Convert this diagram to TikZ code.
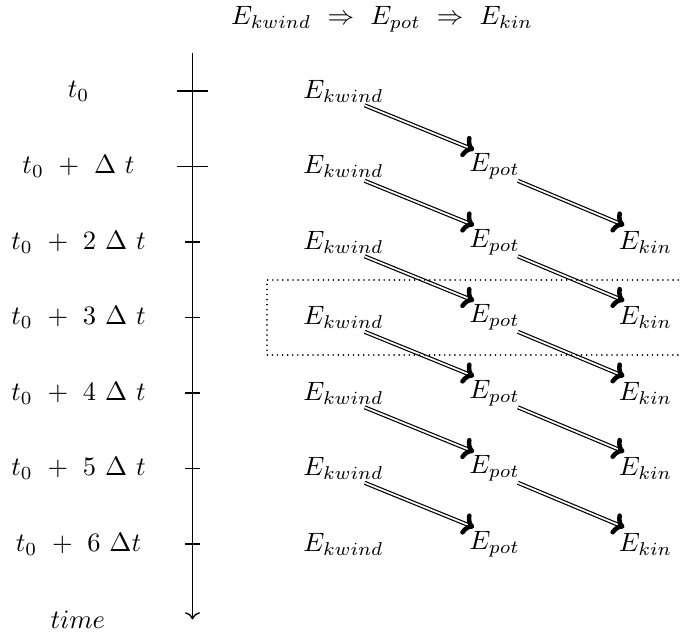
\documentclass[tikz,border=0pt]{standalone}
\usetikzlibrary{arrows.meta}
\begin{document}
\begin{tikzpicture}[
  flow/.style={double, double distance=0.65pt, line width=0.45pt, -{To[line width=1.7pt, length=4.2pt, width=8.5pt, round]}},
  ticka/.style={line width=0.6pt},
  axisline/.style={line width=0.5pt, ->},
  framedots/.style={line width=0.65pt, dash pattern=on 0.01pt off 1.9pt, line cap=round}]
\useasboundingbox (0,-7.22) rectangle (9.007,1.205);
\node[anchor=base] (title) at (5.06,0.874) {$E_{kwind}\ \Rightarrow\ E_{pot}\ \Rightarrow\ E_{kin}$};
% time axis
\coordinate (atop) at (2.55,0.5);
\coordinate (abot) at (2.55,-7);
\draw[axisline] (atop) -- (abot);
\foreach \i in {0,1} \draw[ticka] (2.35,-\i) -- (2.75,-\i);
\foreach \i in {2,...,6} \draw[ticka] (2.45,-\i) -- (2.65,-\i);
% row labels
\node (lab0) at (1.04,0) {$t_0$};
\node (lab1) at (1.04,-1) {$t_0\ +\ \Delta\ t$};
\foreach \i in {2,...,5} \node (lab\i) at (1.04,-\i) {$t_0\ +\ \i\ \Delta\ t$};
\node (lab6) at (1.04,-6) {$t_0\ +\ 6\ \Delta t$};
\node (time) at (1.03,-7) {$time$};
% energy nodes
\foreach \i in {0,...,6} \node (kw\i) at (4.55,-\i) {$E_{kwind}$};
\foreach \i in {1,...,6} \node (pot\i) at (6.55,-\i) {$E_{pot}$};
\foreach \i in {2,...,6} \node (kin\i) at (8.55,-\i) {$E_{kin}$};
% arrows
\foreach \i/\j in {0/1,1/2,2/3,3/4,4/5,5/6}
  \draw[flow] ([shift={(0.28,-0.19)}]kw\i.center) -- ([shift={(-0.27,0.22)}]pot\j.center);
\foreach \i/\j in {1/2,2/3,3/4,4/5,5/6}
  \draw[flow] ([shift={(0.31,-0.19)}]pot\i.center) -- ([shift={(-0.28,0.22)}]kin\j.center);
% dotted frame
\draw[framedots] (9.05,-2.5) -- (3.54,-2.5) -- (3.54,-3.5) -- (9.05,-3.5);
\end{tikzpicture}
\end{document}
